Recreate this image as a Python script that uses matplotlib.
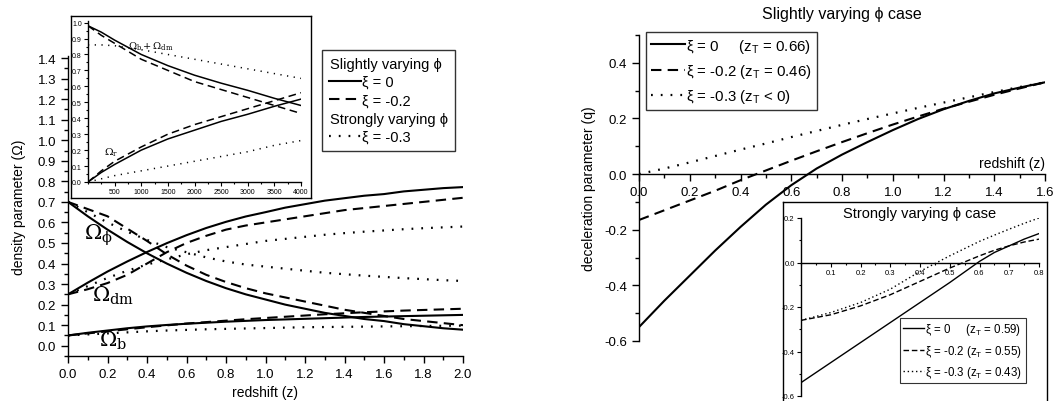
import matplotlib
matplotlib.use('Agg')
import matplotlib.pyplot as plt
import numpy as np
from matplotlib.lines import Line2D
from matplotlib.ticker import MultipleLocator

plt.rcParams['font.family'] = ['Liberation Sans', 'DejaVu Sans']
plt.rcParams['axes.linewidth'] = 1.0
plt.rcParams['axes.unicode_minus'] = False

# ---- left panel: density parameters vs redshift ----
z_dens = [0.0, 0.1, 0.2, 0.3, 0.4, 0.5, 0.6, 0.7, 0.8, 0.9, 1.0,
          1.1, 1.2, 1.3, 1.4, 1.5, 1.6, 1.7, 1.8, 1.9, 2.0]
phi_xi0 = [0.70, 0.63, 0.565, 0.505, 0.45, 0.40, 0.355, 0.315, 0.28, 0.25, 0.225,
           0.20, 0.18, 0.16, 0.145, 0.13, 0.12, 0.105, 0.095, 0.085, 0.078]
dm_xi0 = [0.25, 0.307, 0.361, 0.41, 0.456, 0.499, 0.538, 0.573, 0.603, 0.629, 0.65,
          0.672, 0.689, 0.706, 0.718, 0.73, 0.738, 0.751, 0.759, 0.767, 0.772]
b_xi0 = [0.05, 0.063, 0.074, 0.085, 0.094, 0.101, 0.107, 0.112, 0.117, 0.121, 0.125,
         0.128, 0.131, 0.134, 0.137, 0.14, 0.142, 0.144, 0.146, 0.148, 0.15]
phi_xi02 = [0.70, 0.665, 0.63, 0.57, 0.51, 0.445, 0.39, 0.345, 0.31, 0.28, 0.255,
            0.235, 0.215, 0.195, 0.175, 0.16, 0.145, 0.13, 0.12, 0.11, 0.10]
dm_xi02 = [0.25, 0.275, 0.305, 0.345, 0.40, 0.455, 0.50, 0.535, 0.565, 0.585, 0.60,
           0.615, 0.63, 0.645, 0.66, 0.67, 0.68, 0.69, 0.70, 0.71, 0.72]
b_xi02 = [0.05, 0.06, 0.07, 0.08, 0.09, 0.099, 0.108, 0.115, 0.122, 0.129, 0.135,
          0.141, 0.147, 0.153, 0.158, 0.163, 0.167, 0.171, 0.174, 0.177, 0.18]
phi_xi03 = [0.70, 0.65, 0.60, 0.555, 0.515, 0.48, 0.455, 0.43, 0.41, 0.395, 0.385,
            0.375, 0.365, 0.355, 0.348, 0.341, 0.335, 0.329, 0.324, 0.319, 0.315]
dm_xi03 = [0.25, 0.29, 0.33, 0.365, 0.395, 0.42, 0.445, 0.465, 0.48, 0.495, 0.51,
           0.52, 0.53, 0.54, 0.548, 0.555, 0.561, 0.567, 0.572, 0.576, 0.58]
b_xi03 = [0.05, 0.055, 0.06, 0.065, 0.07, 0.074, 0.077, 0.08, 0.082, 0.084, 0.086,
          0.088, 0.09, 0.091, 0.092, 0.093, 0.094, 0.095, 0.096, 0.097, 0.098]

# inset: high redshift
z_high = [0, 250, 500, 1000, 1500, 2000, 2500, 3000, 3500, 4000]
bdm_xi0 = [0.98, 0.94, 0.89, 0.80, 0.73, 0.67, 0.62, 0.575, 0.525, 0.48]
r_xi0 = [0.0, 0.06, 0.11, 0.20, 0.27, 0.325, 0.38, 0.425, 0.475, 0.52]
bdm_xi02 = [0.98, 0.92, 0.87, 0.77, 0.70, 0.63, 0.58, 0.53, 0.48, 0.43]
r_xi02 = [0.0, 0.07, 0.13, 0.22, 0.30, 0.36, 0.41, 0.46, 0.51, 0.56]
bdm_xi03 = [0.86, 0.86, 0.855, 0.83, 0.80, 0.77, 0.74, 0.71, 0.68, 0.65]
r_xi03 = [0.0, 0.02, 0.04, 0.07, 0.10, 0.13, 0.16, 0.19, 0.23, 0.26]

# ---- right panel: deceleration parameter ----
z_q = [0.0, 0.1, 0.2, 0.3, 0.4, 0.5, 0.6, 0.7, 0.8,
       0.9, 1.0, 1.1, 1.2, 1.3, 1.4, 1.5, 1.6]
q_xi0 = [-0.55, -0.455, -0.365, -0.275, -0.19, -0.11, -0.04, 0.02, 0.07,
         0.115, 0.158, 0.198, 0.233, 0.263, 0.29, 0.311, 0.33]
q_xi02 = [-0.165, -0.13, -0.095, -0.06, -0.022, 0.013, 0.048, 0.082, 0.115,
          0.147, 0.178, 0.207, 0.235, 0.26, 0.285, 0.308, 0.33]
q_xi03 = [0.0, 0.02, 0.042, 0.065, 0.088, 0.11, 0.133, 0.155, 0.177,
          0.198, 0.218, 0.238, 0.257, 0.276, 0.295, 0.313, 0.33]

z_qs = [0.0, 0.1, 0.2, 0.3, 0.4, 0.5, 0.6, 0.65, 0.7, 0.75, 0.8]
qs_xi0 = [-0.54, -0.45, -0.36, -0.27, -0.18, -0.09, 0.005, 0.045, 0.075, 0.105, 0.13]
qs_xi02 = [-0.26, -0.235, -0.195, -0.145, -0.085, -0.025, 0.03, 0.055, 0.075, 0.092, 0.105]
qs_xi03 = [-0.26, -0.225, -0.18, -0.12, -0.04, 0.03, 0.095, 0.123, 0.15, 0.176, 0.20]

W, H = 1059, 402


def px_rect(x0, y0, x1, y1):
    return [x0 / W, 1 - y1 / H, (x1 - x0) / W, (y1 - y0) / H]


solid = dict(color='k', lw=1.5, ls='-')
dash = dict(color='k', lw=1.5, ls=(0, (5, 3)))
dot = dict(color='k', lw=1.6, ls=(0, (0.8, 3.6)))
fmt1 = plt.FuncFormatter(lambda v, p: f'{v:.1f}')

fig = plt.figure(figsize=(W / 100, H / 100), dpi=100)

# left main axes
ax = fig.add_axes(px_rect(68, 57, 463, 357))
for y, st in [(phi_xi0, solid), (dm_xi0, solid), (b_xi0, solid),
              (phi_xi02, dash), (dm_xi02, dash), (b_xi02, dash),
              (phi_xi03, dot), (dm_xi03, dot), (b_xi03, dot)]:
    ax.plot(z_dens, y, **st)
ax.set_xlim(0, 2.0)
ax.set_ylim(-0.05, 1.41)
ax.spines['top'].set_visible(False)
ax.spines['right'].set_visible(False)
ax.xaxis.set_major_locator(MultipleLocator(0.2))
ax.xaxis.set_minor_locator(MultipleLocator(0.1))
ax.set_yticks(np.arange(0, 1.41, 0.1))
ax.yaxis.set_minor_locator(MultipleLocator(0.05))
ax.xaxis.set_major_formatter(fmt1)
ax.yaxis.set_major_formatter(fmt1)
ax.tick_params(which='major', length=5, width=1, labelsize=9.5)
ax.tick_params(which='minor', length=3, width=1)
ax.set_xlabel('redshift (z)', fontsize=10, labelpad=4)
ax.set_ylabel('density parameter (Ω)', fontsize=10, labelpad=8)
ax.text(0.08, 0.52, r'$\mathregular{\Omega_{\phi}}$', fontsize=15, family='DejaVu Serif')
ax.text(0.12, 0.22, r'$\mathregular{\Omega_{dm}}$', fontsize=15, family='DejaVu Serif')
ax.text(0.155, 0.0, r'$\mathregular{\Omega_{b}}$', fontsize=15, family='DejaVu Serif')

leg_handles = [Line2D([], [], color='none'), Line2D([], [], **solid),
               Line2D([], [], **dash), Line2D([], [], color='none'),
               Line2D([], [], **dot)]
leg_labels = ['Slightly varying ϕ', 'ξ = 0', 'ξ = -0.2', 'Strongly varying ϕ', 'ξ = -0.3']
leg = fig.legend(leg_handles, leg_labels, loc='upper left',
                 bbox_to_anchor=(322 / W, 1 - 51 / H), fontsize=10.5,
                 frameon=True, fancybox=False, edgecolor='k', handlelength=2.2,
                 handletextpad=0.1, labelspacing=0.3, borderpad=0.45,
                 borderaxespad=0)
leg.get_frame().set_linewidth(1.0)
for i, hp in enumerate(leg._legend_handle_box.get_children()[0].get_children()):
    if i in (0, 3):
        hp.get_children()[0].set_width(0)

# left inset with frame
fr = fig.add_axes(px_rect(71, 17, 311, 199))
fr.set_xticks([])
fr.set_yticks([])
fr.set_facecolor('white')
fr.set_zorder(3)
ins = fig.add_axes(px_rect(88, 22, 301, 183))
ins.set_zorder(4)
ins.patch.set_alpha(0)
for y, st in [(bdm_xi0, solid), (r_xi0, solid), (bdm_xi02, dash),
              (r_xi02, dash), (bdm_xi03, dot), (r_xi03, dot)]:
    s = dict(st)
    s['lw'] = 1.1
    ins.plot(z_high, y, **s)
ins.set_xlim(0, 4000)
ins.set_ylim(0, 1.01)
ins.spines['top'].set_visible(False)
ins.spines['right'].set_visible(False)
ins.set_xticks([500, 1000, 1500, 2000, 2500, 3000, 3500, 4000])
ins.xaxis.set_minor_locator(MultipleLocator(250))
ins.set_yticks(np.arange(0, 1.01, 0.1))
ins.yaxis.set_minor_locator(MultipleLocator(0.05))
ins.yaxis.set_major_formatter(fmt1)
ins.tick_params(which='major', length=3, width=0.8, labelsize=5, pad=1.5)
ins.tick_params(which='minor', length=1.5, width=0.8)
ins.text(760, 0.84, r'$\mathregular{\Omega_b + \Omega_{dm}}$', fontsize=7, family='DejaVu Serif')
ins.text(300, 0.17, r'$\mathregular{\Omega_r}$', fontsize=7.5, family='DejaVu Serif')

# right main axes
ax2 = fig.add_axes(px_rect(639, 36, 1045, 342))
ax2.plot(z_q, q_xi0, **solid)
ax2.plot(z_q, q_xi02, **dash)
ax2.plot(z_q, q_xi03, **dot)
ax2.set_xlim(0, 1.6)
ax2.set_ylim(-0.6, 0.5)
ax2.spines['top'].set_visible(False)
ax2.spines['right'].set_visible(False)
ax2.spines['bottom'].set_position(('data', 0))
ax2.xaxis.set_major_locator(MultipleLocator(0.2))
ax2.xaxis.set_minor_locator(MultipleLocator(0.1))
ax2.set_yticks([-0.6, -0.4, -0.2, 0.0, 0.2, 0.4])
ax2.yaxis.set_minor_locator(MultipleLocator(0.1))
ax2.xaxis.set_major_formatter(fmt1)
ax2.yaxis.set_major_formatter(fmt1)
ax2.tick_params(which='major', length=5, width=1, labelsize=9.5)
ax2.tick_params(which='minor', length=3, width=1)
ax2.set_ylabel('deceleration parameter (q)', fontsize=10, labelpad=6)
ax2.text(1.6, 0.015, 'redshift (z)', fontsize=10, ha='right', va='bottom')
ax2.set_title('Slightly varying ϕ case', fontsize=11.5, pad=12, x=0.5)
leg2 = ax2.legend(['ξ = 0     (z$_\\mathregular{T}$ = 0.66)',
                   'ξ = -0.2 (z$_\\mathregular{T}$ = 0.46)',
                   'ξ = -0.3 (z$_\\mathregular{T}$ < 0)'],
                  loc='upper left', bbox_to_anchor=(646 / W, 1 - 33 / H),
                  bbox_transform=fig.transFigure, fontsize=10.8, frameon=True,
                  fancybox=False, edgecolor='k', handlelength=2.3,
                  handletextpad=0.1, labelspacing=0.5, borderpad=0.3,
                  borderaxespad=0)
leg2.get_frame().set_linewidth(1.0)

# right inset with frame
fr2 = fig.add_axes(px_rect(783, 203, 1047, 410))
fr2.set_xticks([])
fr2.set_yticks([])
fr2.set_facecolor('white')
fr2.set_zorder(3)
ins2 = fig.add_axes(px_rect(801, 219, 1039, 397))
ins2.set_zorder(4)
ins2.patch.set_alpha(0)
thin = dict(color='k', lw=1.0)
ins2.plot(z_qs, qs_xi0, ls='-', **thin)
ins2.plot(z_qs, qs_xi02, ls=(0, (4, 2)), **thin)
ins2.plot(z_qs, qs_xi03, ls=(0, (1, 2)), **thin)
ins2.set_xlim(0, 0.8)
ins2.set_ylim(-0.6, 0.2)
ins2.spines['top'].set_visible(False)
ins2.spines['right'].set_visible(False)
ins2.spines['bottom'].set_position(('data', 0))
ins2.set_xticks([0.1, 0.2, 0.3, 0.4, 0.5, 0.6, 0.7, 0.8])
ins2.xaxis.set_minor_locator(MultipleLocator(0.05))
ins2.set_yticks([-0.6, -0.4, -0.2, 0.0, 0.2])
ins2.yaxis.set_minor_locator(MultipleLocator(0.1))
ins2.yaxis.set_major_formatter(fmt1)
ins2.tick_params(which='major', length=3, width=0.8, labelsize=5.5, pad=1.5)
ins2.tick_params(which='minor', length=1.5, width=0.8)
ins2.text(0.5, 1.03, 'Strongly varying ϕ case', transform=ins2.transAxes,
          fontsize=10.5, ha='center', va='center')
leg3 = ins2.legend(['ξ = 0     (z$_\\mathregular{T}$ = 0.59)',
                    'ξ = -0.2 (z$_\\mathregular{T}$ = 0.55)',
                    'ξ = -0.3 (z$_\\mathregular{T}$ = 0.43)'],
                   loc='upper left', bbox_to_anchor=(900 / W, 1 - 319 / H),
                   bbox_transform=fig.transFigure, fontsize=8.3, frameon=True,
                   fancybox=False, edgecolor='k', handlelength=1.8,
                   handletextpad=0.1, labelspacing=0.45, borderpad=0.3,
                   borderaxespad=0)
leg3.get_frame().set_linewidth(0.8)

fig.savefig('out.png', dpi=100)
